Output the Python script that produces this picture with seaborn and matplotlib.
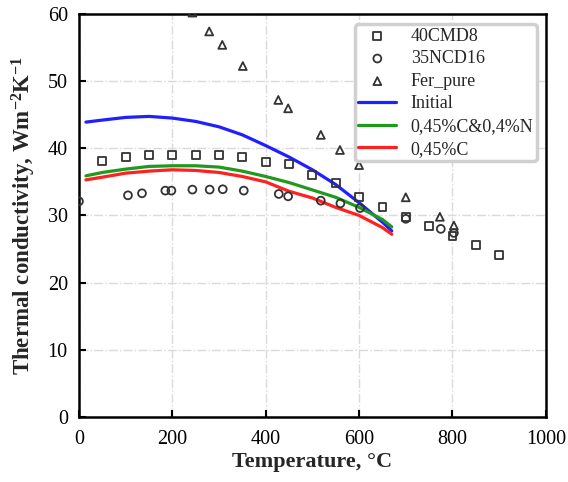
import matplotlib
matplotlib.use("Agg")
import matplotlib.pyplot as plt
import seaborn as sns

# ---- data ----
sq_T = [50, 100, 150, 200, 250, 300, 350, 400, 450, 500, 550, 600, 650, 700, 750, 800, 850, 900]
sq_k = [38.1, 38.7, 39.0, 39.0, 39.0, 39.0, 38.7, 37.9, 37.6, 36.0, 34.8, 32.7, 31.3, 29.8, 28.4, 27.0, 25.6, 24.1]

ci_T = [0, 105, 135, 185, 198, 243, 280, 308, 353, 428, 448, 518, 560, 602, 700, 775, 803]
ci_k = [32.1, 33.0, 33.3, 33.7, 33.7, 33.85, 33.85, 33.9, 33.7, 33.2, 32.85, 32.2, 31.8, 31.1, 29.5, 28.0, 27.4]

tr_T = [243, 279, 307, 351, 427, 448, 518, 559, 600, 700, 773, 803]
tr_k = [60.2, 57.4, 55.4, 52.25, 47.2, 45.95, 42.0, 39.75, 37.5, 32.7, 29.8, 28.5]

line_T = [15, 50, 100, 150, 200, 250, 300, 350, 400, 450, 500, 550, 600, 650, 670]
initial_k = [43.9, 44.2, 44.6, 44.75, 44.5, 44.0, 43.2, 42.0, 40.4, 38.7, 36.8, 34.6, 31.9, 29.0, 27.7]
cn_k = [35.9, 36.4, 36.9, 37.3, 37.4, 37.4, 37.2, 36.6, 35.8, 34.9, 33.8, 32.7, 31.2, 29.4, 28.3]
c_k = [35.3, 35.7, 36.3, 36.6, 36.8, 36.7, 36.4, 35.8, 35.0, 33.6, 32.6, 31.2, 30.0, 28.2, 27.2]

xticks = [0, 200, 400, 600, 800, 1000]
yticks = [0, 10, 20, 30, 40, 50, 60]

sns.set_style("white")
plt.rcParams['font.family'] = ['Liberation Serif', 'DejaVu Serif']
plt.rcParams['mathtext.fontset'] = 'custom'
plt.rcParams['mathtext.rm'] = 'Liberation Serif'
plt.rcParams['mathtext.bf'] = 'Liberation Serif:bold'
plt.rcParams['mathtext.it'] = 'Liberation Serif:italic'

fig = plt.figure(figsize=(5.68, 4.82), dpi=100)
ax = fig.add_axes([0.139, 0.135, 0.822, 0.836])

mk = dict(facecolor='none', edgecolor='#333333', linewidth=1.3, s=32, clip_on=True, zorder=3)
sns.scatterplot(x=sq_T, y=sq_k, marker='s', ax=ax, label='40CMD8', **mk)
sns.scatterplot(x=ci_T, y=ci_k, marker='o', ax=ax, label='35NCD16', **mk)
sns.scatterplot(x=tr_T, y=tr_k, marker='^', ax=ax, label='Fer_pure', **mk)

sns.lineplot(x=line_T, y=initial_k, color='#1f1fff', lw=2.3, ax=ax, label='Initial', zorder=2)
sns.lineplot(x=line_T, y=cn_k, color='#1f9a1f', lw=2.3, ax=ax, label='0,45%C&0,4%N', zorder=2)
sns.lineplot(x=line_T, y=c_k, color='#ff2020', lw=2.3, ax=ax, label='0,45%C', zorder=2)

ax.set_xlim(0, 1000)
ax.set_ylim(0, 60)
ax.set_xticks(xticks)
ax.set_yticks(yticks)
ax.tick_params(direction='in', length=5, width=1.5, labelsize=14.5, top=False, right=False,
               left=True, bottom=True, colors='black')
ax.tick_params(axis='x', pad=9.5)
ax.tick_params(axis='y', pad=8)
ax.grid(True, color='#dadada', linestyle='-.', linewidth=1.0)
ax.set_axisbelow(True)
for s in ax.spines.values():
    s.set_linewidth(1.8)
    s.set_color('black')

ax.set_xlabel('Temperature, °C', fontsize=16, fontweight='bold', labelpad=2)
ax.set_ylabel('Thermal conductivity, Wm$^{\\mathbf{\u2212 2}}$K$^{\\mathbf{\u2212 1}}$', fontsize=16.5,
              fontweight='bold', labelpad=7)

leg = ax.legend(loc='upper right', bbox_to_anchor=(0.981, 0.975), borderaxespad=0, fontsize=13,
                frameon=True, fancybox=True, edgecolor='#d0d0d0', framealpha=1,
                handlelength=2.1, borderpad=0.2, labelspacing=0.31, handletextpad=0.8)
leg.get_frame().set_linewidth(2.5)

fig.savefig('out.png', dpi=100)
